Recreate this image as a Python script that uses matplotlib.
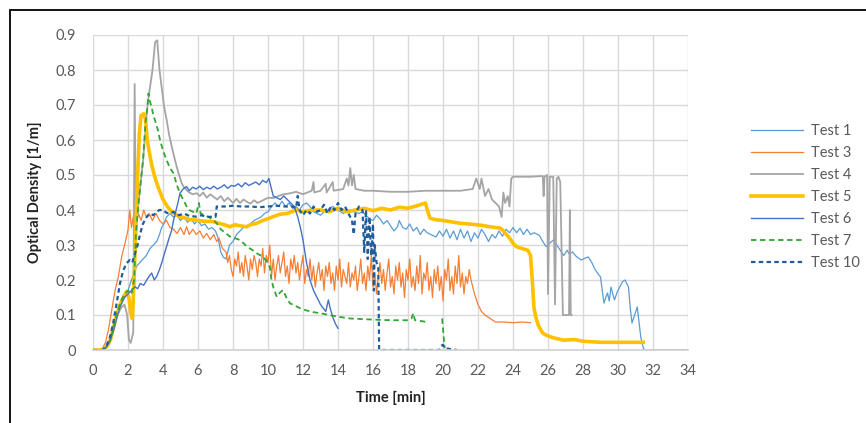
import numpy as np
import matplotlib
matplotlib.use("Agg")
import matplotlib.pyplot as plt
from matplotlib.patches import Rectangle

plt.rcParams['font.family'] = ['Lato', 'DejaVu Sans']

# ---------------- data ----------------
t1 = [0, 0.55, 0.8, 1.0, 1.2, 1.4, 1.6, 1.8, 2.0, 2.2, 2.5, 2.86, 3.05, 3.26, 3.45, 3.64, 3.8, 3.92, 4.05, 4.2,
      4.4, 4.6, 4.8, 5.0, 5.2, 5.4, 5.6, 5.8, 6.0, 6.2, 6.4, 6.6, 6.8, 7.0, 7.15, 7.3, 7.45, 7.6, 7.8, 8.0,
      8.2, 8.4, 8.6, 8.8, 9.0, 9.2, 9.4, 9.6, 9.8, 10.0, 10.2, 10.4, 10.6, 10.8, 11.0, 11.2, 11.4, 11.6, 11.8, 12.0,
      12.2, 12.4, 12.6, 12.8, 13.0, 13.2, 13.4, 13.7, 14.0, 14.3, 14.6, 14.9, 15.2, 15.4, 15.6, 15.8, 16.0, 16.2, 16.4, 16.6,
      16.8, 17.0, 17.2, 17.4, 17.5, 17.7, 17.9, 18.1, 18.3, 18.5, 18.7, 18.9, 19.1, 19.3, 19.6, 19.8, 20.0, 20.2, 20.4, 20.6,
      20.8, 21.0, 21.2, 21.4, 21.6, 21.8, 22.0, 22.2, 22.4, 22.6, 22.8, 23.0, 23.2, 23.4, 23.6, 23.8, 24.0, 24.2, 24.4, 24.6,
      24.8, 25.0, 25.2, 25.5, 25.7, 25.9, 26.1, 26.3, 26.5, 26.7, 26.9, 27.1, 27.2, 27.4, 27.6, 27.9, 28.1, 28.3, 28.5, 28.7,
      28.9, 29.0, 29.1, 29.2, 29.3, 29.4, 29.5, 29.6, 29.7, 29.8, 29.95, 30.1, 30.25, 30.4, 30.5, 30.6, 30.7, 30.8, 30.95, 31.1,
      31.2, 31.3, 31.45, 31.55, 34.0]
v1 = [0, 0, 0.01, 0.03, 0.07, 0.11, 0.135, 0.155, 0.17, 0.2, 0.24, 0.26, 0.27, 0.29, 0.3, 0.31, 0.33, 0.35, 0.36, 0.38,
      0.39, 0.38, 0.385, 0.37, 0.38, 0.365, 0.375, 0.36, 0.37, 0.355, 0.36, 0.345, 0.35, 0.34, 0.32, 0.28, 0.265, 0.26, 0.3, 0.31,
      0.33, 0.34, 0.35, 0.355, 0.36, 0.37, 0.375, 0.38, 0.39, 0.395, 0.41, 0.42, 0.41, 0.425, 0.41, 0.42, 0.405, 0.41, 0.4, 0.415,
      0.42, 0.41, 0.395, 0.39, 0.385, 0.395, 0.4, 0.41, 0.4, 0.39, 0.4, 0.395, 0.39, 0.395, 0.385, 0.375, 0.37, 0.385, 0.375, 0.36,
      0.37, 0.355, 0.34, 0.352, 0.37, 0.35, 0.345, 0.36, 0.34, 0.35, 0.33, 0.345, 0.335, 0.33, 0.323, 0.34, 0.325, 0.345, 0.32, 0.34,
      0.315, 0.345, 0.32, 0.34, 0.31, 0.335, 0.32, 0.345, 0.33, 0.31, 0.33, 0.32, 0.34, 0.325, 0.345, 0.335, 0.35, 0.335, 0.348, 0.33,
      0.345, 0.33, 0.335, 0.328, 0.31, 0.295, 0.305, 0.314, 0.3, 0.285, 0.27, 0.285, 0.275, 0.28, 0.268, 0.257, 0.262, 0.266, 0.25, 0.229,
      0.215, 0.209, 0.17, 0.134, 0.15, 0.163, 0.14, 0.18, 0.16, 0.143, 0.165, 0.18, 0.195, 0.2, 0.19, 0.18, 0.12, 0.077, 0.1, 0.123,
      0.08, 0.037, 0.005, 0, 0]

# Test 3: early part, dense noisy part (sampled every 0.1 min from 7.6 to 21.6), tail
t3_start = [0, 0.5, 0.7, 0.88, 1.07, 1.26, 1.45, 1.64, 1.83, 2.0, 2.1, 2.2, 2.3, 2.45, 2.6, 2.75, 2.9, 3.05, 3.2, 3.4,
            3.6, 3.8, 4.0, 4.2, 4.4, 4.6, 4.8, 5.0, 5.2, 5.35, 5.5, 5.7, 5.9, 6.1, 6.3, 6.5, 6.7, 6.9, 7.07, 7.2, 7.4]
v3_start = [0, 0, 0.02, 0.057, 0.114, 0.17, 0.21, 0.267, 0.305, 0.343, 0.4, 0.35, 0.38, 0.36, 0.39, 0.37, 0.4, 0.38, 0.39, 0.37,
            0.39, 0.37, 0.36, 0.37, 0.35, 0.345, 0.333, 0.35, 0.33, 0.352, 0.33, 0.345, 0.33, 0.34, 0.32, 0.333, 0.315, 0.33, 0.31, 0.32, 0.29]
t3_noisy = np.round(np.arange(7.6, 21.65, 0.1), 2)
v3_noisy = [0.28, 0.25, 0.27, 0.23, 0.21, 0.26, 0.24, 0.28, 0.22, 0.25,
            0.21, 0.27, 0.24, 0.2, 0.26, 0.23, 0.27, 0.25, 0.21, 0.26,
            0.24, 0.29, 0.22, 0.27, 0.25, 0.3, 0.21, 0.26, 0.2, 0.24,
            0.27, 0.22, 0.25, 0.28, 0.21, 0.24, 0.19, 0.26, 0.23, 0.27,
            0.22, 0.25, 0.2, 0.24, 0.27, 0.19, 0.23, 0.21, 0.26, 0.2,
            0.24, 0.18, 0.22, 0.25, 0.2, 0.23, 0.17, 0.24, 0.21, 0.25,
            0.19, 0.22, 0.17, 0.24, 0.2, 0.26, 0.18, 0.23, 0.21, 0.19,
            0.25, 0.18, 0.22, 0.2, 0.24, 0.17, 0.21, 0.26, 0.19, 0.22,
            0.17, 0.24, 0.2, 0.27, 0.18, 0.22, 0.16, 0.21, 0.25, 0.19,
            0.23, 0.17, 0.22, 0.26, 0.18, 0.21, 0.16, 0.24, 0.2, 0.25,
            0.18, 0.22, 0.15, 0.23, 0.2, 0.26, 0.18, 0.21, 0.17, 0.24,
            0.19, 0.27, 0.16, 0.22, 0.2, 0.25, 0.17, 0.21, 0.15, 0.23,
            0.19, 0.24, 0.17, 0.21, 0.14, 0.23, 0.2, 0.26, 0.17, 0.21,
            0.16, 0.24, 0.19, 0.27, 0.18, 0.22, 0.16, 0.21, 0.19, 0.23,
            0.2]
t3_end = [21.8, 22.0, 22.2, 22.4, 22.7, 23.0, 23.5, 24.0, 24.5, 25.0]
v3_end = [0.16, 0.13, 0.11, 0.1, 0.09, 0.08, 0.08, 0.078, 0.08, 0.078]

t4 = [0, 0.55, 0.8, 1.0, 1.2, 1.4, 1.6, 1.8, 1.95, 2.05, 2.15, 2.3, 2.38, 2.45, 2.6, 2.86, 3.07, 3.17, 3.4, 3.55,
      3.67, 3.8, 3.92, 4.05, 4.21, 4.35, 4.5, 4.65, 4.78, 4.92, 5.07, 5.2, 5.35, 5.5, 5.7, 5.92, 6.1, 6.3, 6.5, 6.7,
      6.88, 7.1, 7.3, 7.5, 7.7, 7.83, 8.0, 8.2, 8.4, 8.6, 8.78, 9.0, 9.2, 9.4, 9.6, 9.8, 10.0, 10.3, 10.6, 10.9,
      11.2, 11.6, 12.0, 12.5, 12.6, 12.65, 13.0, 13.3, 13.35, 13.7, 13.75, 14.3, 14.5, 14.6, 14.7, 14.8, 14.9, 15.0, 15.5, 16.0,
      17.0, 18.0, 19.0, 20.0, 21.0, 21.7, 21.9, 22.1, 22.2, 22.4, 22.6, 22.8, 23.0, 23.2, 23.35, 23.45, 23.55, 23.7, 23.8, 23.9,
      24.0, 25.0, 25.7, 25.75, 25.8, 25.95, 26.0, 26.1, 26.3, 26.4, 26.5, 26.6, 26.7, 26.85, 27.0, 27.2, 27.25, 27.3, 27.35]
v4 = [0, 0, 0.01, 0.03, 0.07, 0.1, 0.12, 0.13, 0.1, 0.03, 0.02, 0.05, 0.76, 0.33, 0.42, 0.54, 0.676, 0.72, 0.8, 0.88,
      0.885, 0.8, 0.752, 0.7, 0.657, 0.615, 0.581, 0.55, 0.524, 0.5, 0.476, 0.465, 0.457, 0.45, 0.445, 0.448, 0.44, 0.45, 0.435, 0.445,
      0.438, 0.43, 0.44, 0.425, 0.435, 0.429, 0.42, 0.432, 0.42, 0.43, 0.424, 0.418, 0.428, 0.42, 0.425, 0.43, 0.435, 0.434, 0.44, 0.445,
      0.447, 0.452, 0.445, 0.455, 0.48, 0.45, 0.455, 0.475, 0.45, 0.48, 0.455, 0.46, 0.49, 0.47, 0.52, 0.47, 0.5, 0.46, 0.455, 0.455,
      0.452, 0.452, 0.455, 0.455, 0.455, 0.46, 0.49, 0.46, 0.49, 0.44, 0.46, 0.43, 0.42, 0.41, 0.38, 0.45, 0.42, 0.44, 0.41, 0.49,
      0.495, 0.495, 0.497, 0.44, 0.495, 0.5, 0.16, 0.495, 0.495, 0.13, 0.49, 0.495, 0.48, 0.1, 0.1, 0.1, 0.4, 0.1, 0.1]

t5 = [0, 0.55, 0.8, 1.0, 1.2, 1.35, 1.55, 1.75, 1.92, 2.05, 2.15, 2.25, 2.35, 2.45, 2.55, 2.65, 2.75, 2.9, 3.0, 3.1,
      3.2, 3.35, 3.5, 3.64, 3.8, 4.0, 4.25, 4.5, 4.75, 4.97, 5.2, 5.5, 5.9, 6.3, 6.86, 7.2, 7.5, 7.83, 8.1, 8.4,
      8.78, 9.0, 9.35, 9.7, 10.0, 10.3, 10.7, 11.1, 11.6, 12.0, 12.5, 13.0, 13.5, 14.0, 14.5, 15.0, 15.5, 16.0, 16.5, 17.0,
      17.5, 18.0, 18.5, 19.0, 19.1, 19.25, 19.6, 20.0, 20.5, 21.0, 21.5, 22.1, 22.7, 23.3, 23.5, 23.8, 24.0, 24.2, 24.5, 24.85,
      25.0, 25.1, 25.2, 25.3, 25.45, 25.7, 26.0, 26.3, 26.9, 27.5, 28.0, 29.0, 30.0, 31.0, 31.45]
v5 = [0, 0, 0.01, 0.03, 0.07, 0.1, 0.13, 0.152, 0.167, 0.15, 0.11, 0.09, 0.2, 0.35, 0.5, 0.62, 0.67, 0.675, 0.66, 0.6,
      0.57, 0.53, 0.5, 0.477, 0.455, 0.43, 0.41, 0.395, 0.387, 0.381, 0.378, 0.373, 0.371, 0.368, 0.367, 0.362, 0.358, 0.352, 0.358, 0.355,
      0.352, 0.358, 0.362, 0.37, 0.375, 0.381, 0.388, 0.39, 0.4, 0.395, 0.4, 0.4, 0.395, 0.405, 0.395, 0.4, 0.405, 0.398, 0.405, 0.4,
      0.408, 0.405, 0.412, 0.42, 0.4, 0.377, 0.372, 0.37, 0.366, 0.362, 0.36, 0.357, 0.352, 0.348, 0.337, 0.32, 0.305, 0.295, 0.29, 0.285,
      0.27, 0.2, 0.12, 0.095, 0.07, 0.048, 0.04, 0.035, 0.028, 0.03, 0.025, 0.022, 0.022, 0.022, 0.022]

t6 = [0, 0.55, 0.8, 1.0, 1.2, 1.4, 1.6, 1.8, 2.0, 2.2, 2.4, 2.55, 2.7, 2.9, 3.07, 3.2, 3.35, 3.5, 3.64, 3.8,
      3.92, 4.05, 4.2, 4.35, 4.5, 4.6, 4.7, 4.85, 4.97, 5.15, 5.35, 5.5, 5.7, 5.9, 6.1, 6.3, 6.5, 6.7, 6.9, 7.1,
      7.3, 7.5, 7.7, 7.9, 8.1, 8.3, 8.5, 8.7, 8.9, 9.1, 9.3, 9.5, 9.7, 9.9, 10.05, 10.15, 10.3, 10.5, 10.7, 10.9,
      11.1, 11.3, 11.5, 11.7, 11.85, 12.0, 12.2, 12.4, 12.6, 12.8, 13.0, 13.1, 13.3, 13.45, 13.55, 13.7, 13.85, 14.0]
v6 = [0, 0, 0.01, 0.03, 0.06, 0.1, 0.13, 0.15, 0.16, 0.17, 0.181, 0.175, 0.19, 0.185, 0.2, 0.21, 0.22, 0.2, 0.21, 0.23,
      0.248, 0.27, 0.295, 0.32, 0.343, 0.37, 0.39, 0.42, 0.448, 0.46, 0.467, 0.455, 0.465, 0.46, 0.468, 0.458, 0.465, 0.46, 0.468, 0.46,
      0.465, 0.472, 0.462, 0.47, 0.468, 0.475, 0.466, 0.478, 0.47, 0.475, 0.48, 0.472, 0.485, 0.478, 0.49, 0.47, 0.44, 0.435, 0.43, 0.44,
      0.43, 0.42, 0.41, 0.38, 0.35, 0.314, 0.25, 0.2, 0.17, 0.15, 0.13, 0.123, 0.11, 0.143, 0.12, 0.094, 0.075, 0.062]

t7 = [0, 0.55, 0.8, 1.0, 1.2, 1.4, 1.6, 1.8, 2.0, 2.2, 2.35, 2.45, 2.6, 2.7, 2.86, 3.0, 3.07, 3.17, 3.25, 3.35,
      3.45, 3.54, 3.7, 3.83, 4.0, 4.2, 4.4, 4.6, 4.8, 4.97, 5.15, 5.35, 5.5, 5.7, 5.9, 6.05, 6.15, 6.4, 6.6, 6.9,
      7.1, 7.3, 7.6, 7.8, 8.0, 8.2, 8.4, 8.6, 8.8, 9.1, 9.4, 9.7, 9.9, 10.1, 10.2, 10.3, 10.5, 10.7, 10.86, 11.05,
      11.26, 11.5, 11.8, 12.2, 12.6, 13.0, 13.5, 14.0, 14.7, 15.5, 16.4, 17.2, 18.0, 18.2, 18.3, 18.4, 18.7, 19.1, 19.5, 19.95,
      20.0, 20.05, 20.1]
v7 = [0, 0, 0.01, 0.03, 0.07, 0.11, 0.14, 0.16, 0.17, 0.16, 0.2, 0.33, 0.42, 0.467, 0.543, 0.65, 0.676, 0.733, 0.71, 0.695,
      0.67, 0.657, 0.63, 0.6, 0.57, 0.543, 0.52, 0.505, 0.47, 0.448, 0.43, 0.41, 0.4, 0.395, 0.39, 0.42, 0.39, 0.385, 0.38, 0.371,
      0.36, 0.345, 0.333, 0.325, 0.32, 0.318, 0.314, 0.305, 0.295, 0.286, 0.275, 0.267, 0.255, 0.238, 0.2, 0.18, 0.152, 0.165, 0.171, 0.15,
      0.133, 0.128, 0.12, 0.113, 0.108, 0.105, 0.1, 0.095, 0.09, 0.088, 0.086, 0.085, 0.085, 0.09, 0.105, 0.085, 0.083, 0.08, np.nan, 0.09,
      0.06, 0.03, 0.005]

t10 = [0, 0.55, 0.75, 0.97, 1.15, 1.35, 1.54, 1.73, 1.92, 2.1, 2.25, 2.4, 2.55, 2.7, 2.85, 3.0, 3.07, 3.26, 3.45, 3.64,
       3.8, 4.0, 4.2, 4.4, 4.6, 4.8, 4.97, 5.2, 5.5, 5.9, 6.2, 6.5, 6.86, 7.0, 7.07, 7.5, 8.0, 8.5, 9.0, 9.5,
       10.0, 10.5, 11.0, 11.4, 11.6, 11.7, 11.8, 12.0, 12.2, 12.4, 12.6, 12.8, 13.0, 13.2, 13.4, 13.6, 13.8, 14.0, 14.2, 14.4,
       14.6, 14.8, 14.9, 15.0, 15.2, 15.4, 15.5, 15.6, 15.7, 15.8, 15.9, 16.0, 16.05, 16.1, 16.2, 16.3, 16.35, 17.0, 18.0, 19.0,
       19.8, 19.9, 20.0, 20.1, 20.8]
v10 = [0, 0, 0.01, 0.037, 0.076, 0.133, 0.19, 0.228, 0.248, 0.257, 0.25, 0.276, 0.3, 0.333, 0.36, 0.375, 0.38, 0.39, 0.385, 0.395,
       0.4, 0.4, 0.392, 0.39, 0.395, 0.385, 0.386, 0.39, 0.383, 0.381, 0.385, 0.38, 0.381, 0.38, 0.41, 0.41, 0.412, 0.41, 0.41, 0.408,
       0.41, 0.412, 0.41, 0.41, 0.405, 0.44, 0.4, 0.385, 0.4, 0.39, 0.41, 0.395, 0.4, 0.415, 0.39, 0.41, 0.4, 0.42, 0.4, 0.41,
       0.39, 0.37, 0.33, 0.39, 0.41, 0.4, 0.28, 0.4, 0.26, 0.38, 0.27, 0.36, 0.17, 0.3, 0.25, 0.24, 0.0, 0.0, 0.0, 0.0,
       0.0, 0.012, 0.015, 0.005, 0.0]

labels = ["Test 1", "Test 3", "Test 4", "Test 5", "Test 6", "Test 7", "Test 10"]
x_ticks = list(range(0, 35, 2))
y_ticks = [0, 0.1, 0.2, 0.3, 0.4, 0.5, 0.6, 0.7, 0.8, 0.9]
y_tick_labels = ["0", "0.1", "0.2", "0.3", "0.4", "0.5", "0.6", "0.7", "0.8", "0.9"]

t3 = list(t3_start) + list(t3_noisy) + list(t3_end)
v3 = list(v3_start) + list(v3_noisy) + list(v3_end)

# ---------------- figure ----------------
fig = plt.figure(figsize=(8.66, 4.23), dpi=100)
ax = fig.add_axes([93/866, 1-350/423, (688-93)/866, (350-35)/423])

series = [
    (t1, v1, dict(color="#5B9BD5", lw=0.9)),
    (t3, v3, dict(color="#F57F34", lw=0.9)),
    (t4, v4, dict(color="#A5A5A5", lw=1.3)),
    (t5, v5, dict(color="#FFC000", lw=2.6)),
    (t6, v6, dict(color="#4472C4", lw=1.0)),
    (t7, v7, dict(color="#33A532", lw=1.3, ls=(0, (3, 2)))),
    (t10, v10, dict(color="#1F5C99", lw=1.6, ls=(0, (2, 1.5)))),
]
for (t, v, st), lab in zip(series, labels):
    ax.plot(t, v, label=lab, solid_joinstyle='round', **st)

ax.set_xlim(0, 34)
ax.set_ylim(0, 0.9)
ax.set_xticks(x_ticks)
ax.set_yticks(y_ticks)
ax.set_yticklabels(y_tick_labels)
ax.grid(True, color="#D9D9D9", lw=1.0)
ax.set_axisbelow(True)
for s in ["top", "right", "left"]:
    ax.spines[s].set_visible(False)
ax.spines["bottom"].set_color("#D0D0D0")
ax.spines["bottom"].set_linewidth(1.2)
ax.tick_params(length=0, labelsize=10.5, colors="#595959", pad=12)
ax.tick_params(axis='x', pad=10)

ax.set_xlabel("Time [min]", fontsize=10.5, fontweight="bold", color="#222222", labelpad=9)
ax.set_ylabel("Optical Density [1/m]", fontsize=10.5, fontweight="bold", color="#222222", labelpad=10)

leg = ax.legend(loc="upper left", bbox_to_anchor=(745/866, 1-118/423), bbox_transform=fig.transFigure,
                frameon=False, fontsize=10.5, handlelength=3.6, handletextpad=0.5, labelspacing=0.55,
                borderaxespad=0)
for txt in leg.get_texts():
    txt.set_color("#595959")

# outer black frame
fig.patches.append(Rectangle((10/866, -0.05), 1.0, 1 - 10.5/423 + 0.05, transform=fig.transFigure,
                             fill=False, edgecolor="black", lw=1.3))

fig.savefig("out.png", dpi=100)
